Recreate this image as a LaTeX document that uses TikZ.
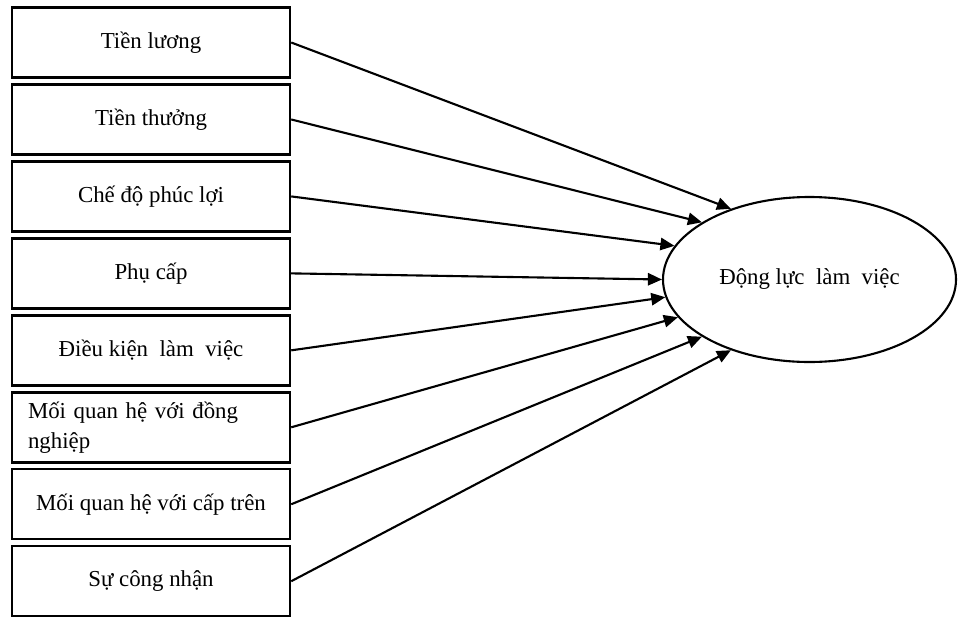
\documentclass[tikz,border=0pt]{standalone}
\usepackage{fontspec}
\setmainfont{Liberation Serif}
\usetikzlibrary{arrows.meta}
\usetikzlibrary{positioning}
\usetikzlibrary{shapes}

\begin{document}
\begin{tikzpicture}[
    factor/.style={draw, line width=1.4pt, minimum width=5.56cm, minimum height=1.4cm, inner sep=0pt, font=\fontsize{13}{17}\selectfont},
    outcome/.style={ellipse, draw, line width=1.2pt, minimum width=5.86cm, minimum height=3.3cm, inner sep=0pt, font=\fontsize{13}{17}\selectfont},
    link/.style={line width=1.2pt, -{Triangle[length=8pt, width=7pt]}}
]

    % Page frame
    \useasboundingbox (0,0) rectangle (19.2,-12.38);

    % Constants
    \pgfmathsetmacro{\xbox}{3.02}
    \pgfmathsetmacro{\ytop}{-0.85}
    \pgfmathsetmacro{\gap}{0.09}

    % Factors
    \node [factor] (luong) at (\xbox, \ytop) {Tiền lương};
    \node [factor, below=\gap cm of luong] (thuong) {Tiền thưởng};
    \node [factor, below=\gap cm of thuong] (phucloi) {Chế độ phúc lợi};
    \node [factor, below=\gap cm of phucloi] (phucap) {Phụ cấp};
    \node [factor, below=\gap cm of phucap] (dieukien) {Điều kiện\ \ làm\ \ việc};
    \node [factor, below=\gap cm of dieukien, text width=4.92cm, align=left] (dongnghiep) {Mối quan hệ với đồng\\nghiệp};
    \node [factor, below=\gap cm of dongnghiep] (captren) {Mối quan hệ với cấp trên};
    \node [factor, below=\gap cm of captren] (congnhan) {Sự công nhận};

    % Outcome
    \node [outcome] (dongluc) at (16.19, -5.59) {Động lực\ \ làm\ \ việc};

    % Links
    \draw [link] (luong.east) -- (dongluc.138);
    \draw [link] (thuong.east) -- (dongluc.152);
    \draw [link] (phucloi.east) -- (dongluc.166);
    \draw [link] (phucap.east) -- (dongluc.180);
    \draw [link] (dieukien.east) -- (dongluc.187);
    \draw [link] (dongnghiep.east) -- (dongluc.196);
    \draw [link] (captren.east) -- (dongluc.208);
    \draw [link] (congnhan.east) -- (dongluc.222);

\end{tikzpicture}
\end{document}
